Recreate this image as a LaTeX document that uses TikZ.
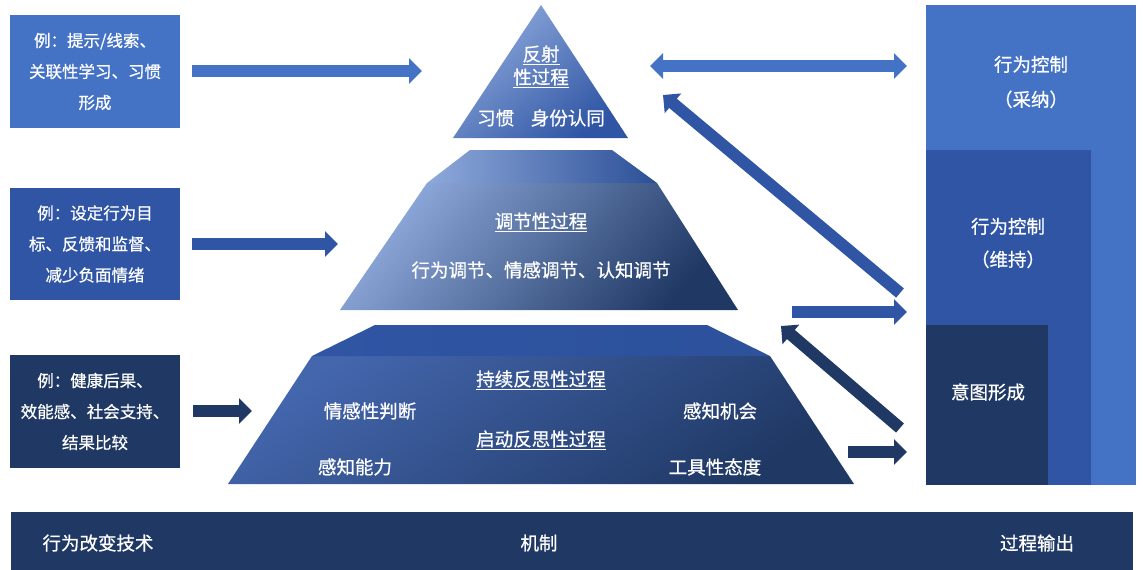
\documentclass[tikz,border=0pt]{standalone}
\usepackage{fontspec}
\setmainfont{Noto Sans CJK SC}[FakeBold=0.7]
\usetikzlibrary{arrows.meta}
\definecolor{lb}{HTML}{4472C4}
\definecolor{mb}{HTML}{2F55A4}
\definecolor{db}{HTML}{1F3864}
\definecolor{pale}{HTML}{8EA9DB}
\begin{document}
\begin{tikzpicture}[x=1pt,y=-1pt,
  blk/.style={inner sep=0pt, outer sep=0pt, draw=none},
  boxtext/.style={text=white, font=\fontsize{16.5}{31}\selectfont, align=center},
  pyrtext/.style={text=white, font=\fontsize{18.5}{22}\selectfont, inner sep=0pt},
  bartext/.style={text=white, font=\fontsize{18.5}{22}\selectfont, inner sep=0pt},
  barrow/.style={line width=12pt, -{Triangle[length=13pt,width=25pt]}},
  dbarrow/.style={line width=12pt, {Triangle[length=13pt,width=25pt]}-{Triangle[length=13pt,width=25pt]}}
]
\useasboundingbox (0,0) rectangle (1143,570);
\fill[white] (0,0) rectangle (1143,570);

% left boxes
\node[blk, fill=lb, minimum width=170pt, minimum height=113pt, boxtext] (b1) at (95,71.5) {例：提示/线索、\\关联性学习、习惯\\形成};
\node[blk, fill=mb, minimum width=170pt, minimum height=112pt, boxtext] (b2) at (95,244) {例：设定行为目\\标、反馈和监督、\\减少负面情绪};
\node[blk, fill=db, minimum width=170pt, minimum height=113pt, boxtext] (b3) at (95,411.5) {例：健康后果、\\效能感、社会支持、\\结果比较};

% pyramid top
\shade[top color=pale, bottom color=mb, shading angle=40] (541,5) -- (628,138) -- (453,138) -- cycle;
\node[pyrtext] (t1) at (541,55) {\underline{反射}};
\node[pyrtext] (t2) at (541,78) {\underline{性过程}};
\node[pyrtext] (t3) at (541,118) {习惯\hspace{0.9em}身份认同};

% pyramid middle
\shade[top color=pale, bottom color=db, shading angle=50] (427,183) -- (657,183) -- (738,310) -- (340,310) -- cycle;
\shade[left color=pale, right color=mb!80!db] (470,150) -- (612,150) -- (657,183) -- (427,183) -- cycle;
\node[pyrtext] (m1) at (541,222) {\underline{调节性过程}};
\node[pyrtext] (m2) at (541,270) {行为调节、情感调节、认知调节};

% pyramid bottom
\shade[top color=mb!90!white, bottom color=db, shading angle=35] (312,356) -- (770,356) -- (854,484) -- (228,484) -- cycle;
\shade[left color=mb, right color=mb!85!db] (375,325) -- (707,325) -- (770,356) -- (312,356) -- cycle;
\node[pyrtext] (p1) at (541,380) {\underline{持续反思性过程}};
\node[pyrtext] (p2) at (541,440) {\underline{启动反思性过程}};
\node[pyrtext] (p3) at (370,411) {情感性判断};
\node[pyrtext] (p4) at (720,411) {感知机会};
\node[pyrtext] (p5) at (355,467) {感知能力};
\node[pyrtext] (p6) at (715,467) {工具性态度};

% right panel
\node[blk, fill=lb, minimum width=210pt, minimum height=480pt, anchor=north west] (r1) at (926,5) {};
\node[blk, fill=mb, minimum width=165pt, minimum height=335pt, anchor=north west] (r2) at (926,150) {};
\node[blk, fill=db, minimum width=122pt, minimum height=160pt, anchor=north west] (r3) at (926,325) {};
\node[boxtext, font=\fontsize{18.5}{35}\selectfont] (o1) at (1031,82) {行为控制\\（采纳）};
\node[boxtext, font=\fontsize{18.5}{33}\selectfont] (o2) at (1008,243) {行为控制\\（维持）};
\node[pyrtext] (o3) at (988,392) {意图形成};

% bottom bar
\node[blk, fill=db, minimum width=1122pt, minimum height=58pt, anchor=north west] (bar) at (11,512) {};
\node[bartext] (l1) at (98,543) {行为改变技术};
\node[bartext] (l2) at (539,543) {机制};
\node[bartext] (l3) at (1037,543) {过程输出};

% arrow coordinates
\coordinate (a1s) at (192,71);  \coordinate (a1e) at (422,71);
\coordinate (a2s) at (192,244); \coordinate (a2e) at (338,244);
\coordinate (a3s) at (193,411); \coordinate (a3e) at (252,411);
\coordinate (d1s) at (650,66);  \coordinate (d1e) at (907,66);
\coordinate (g1s) at (900,293); \coordinate (g1e) at (663,95);
\coordinate (h1s) at (792,312); \coordinate (h1e) at (907,312);
\coordinate (g2s) at (900,428); \coordinate (g2e) at (781,326);
\coordinate (h2s) at (848,452); \coordinate (h2e) at (907,452);

\draw[barrow, lb] (a1s) -- (a1e);
\draw[barrow, mb] (a2s) -- (a2e);
\draw[barrow, db] (a3s) -- (a3e);
\draw[dbarrow, lb] (d1s) -- (d1e);
\draw[barrow, mb] (g1s) -- (g1e);
\draw[barrow, mb] (h1s) -- (h1e);
\draw[barrow, db] (g2s) -- (g2e);
\draw[barrow, db] (h2s) -- (h2e);
\end{tikzpicture}
\end{document}
